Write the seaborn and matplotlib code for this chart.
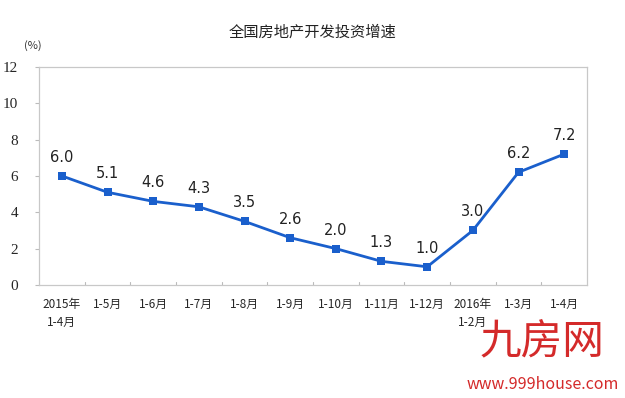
import matplotlib
matplotlib.use("Agg")
import matplotlib.pyplot as plt
import seaborn as sns
import pandas as pd

# 数据
periods = ["2015年\n1-4月", "1-5月", "1-6月", "1-7月", "1-8月", "1-9月",
           "1-10月", "1-11月", "1-12月", "2016年\n1-2月", "1-3月", "1-4月"]
growth = [6.0, 5.1, 4.6, 4.3, 3.5, 2.6, 2.0, 1.3, 1.0, 3.0, 6.2, 7.2]
y_ticks = [0, 2, 4, 6, 8, 10, 12]

sns.set_style("white")
plt.rcParams['font.family'] = ['Noto Sans CJK SC', 'DejaVu Sans']

df = pd.DataFrame({"x": range(len(periods)), "growth": growth})

fig = plt.figure(figsize=(6.25, 3.98), dpi=100)
ax = fig.add_axes([0.0624, 0.284, 0.8768, 0.548])

sns.lineplot(data=df, x="x", y="growth", ax=ax, color="#1a5fcc",
             linewidth=2, marker="s", markersize=6, markeredgewidth=0)

for i, v in enumerate(growth):
    ax.annotate(f"{v:.1f}", (i, v), xytext=(0, 8), textcoords="offset points",
                ha="center", va="bottom", fontsize=10.5, color="#222222",
                family="DejaVu Sans")

ax.set_xlim(-0.5, len(periods) - 0.5)
ax.set_ylim(0, 12)
ax.set_yticks(y_ticks)
ax.set_yticklabels([str(t) for t in y_ticks], fontsize=11, family="Liberation Serif")
ax.set_xticks(range(len(periods)))
ax.set_xticklabels(periods, fontsize=8.5, linespacing=1.5, va="top")
ax.xaxis.set_ticks_position("none")
for b in range(1, len(periods)):
    ax.axvline(b - 0.5, ymin=0, ymax=0.012, color="#bbbbbb", linewidth=0.8)
ax.tick_params(axis="y", length=3, color="#bbbbbb", left=True, pad=12)
ax.tick_params(axis="x", pad=6)
ax.set_xlabel("")
ax.set_ylabel("")
for s in ax.spines.values():
    s.set_color("#c8c8c8")
    s.set_linewidth(0.9)

fig.text(0.5, 0.92, "全国房地产开发投资增速", ha="center", va="center",
         fontsize=11, color="#222222")
fig.text(0.052, 0.885, "(%)", ha="center", va="center", fontsize=8,
         color="#333333")

# 水印
fig.text(0.868, 0.14, "九房网", ha="center", va="center", fontsize=30,
         color="#d42a2a")
fig.text(0.868, 0.033, "www.999house.com", ha="center", va="center",
         fontsize=11.5, color="#d42a2a")

fig.savefig("out.png", dpi=100)
